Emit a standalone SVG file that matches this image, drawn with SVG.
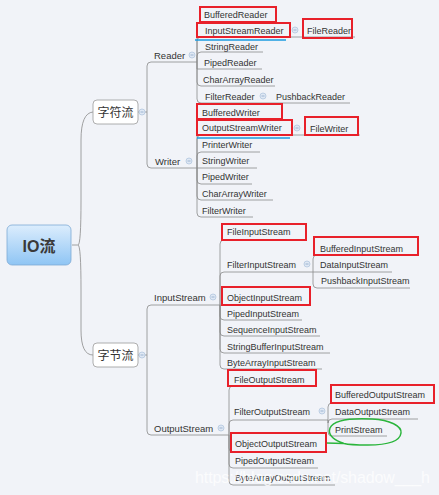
<svg xmlns="http://www.w3.org/2000/svg" width="439" height="495" viewBox="0 0 439 495">
<defs>
<linearGradient id="rootg" x1="0" y1="0" x2="0" y2="1">
<stop offset="0" stop-color="#dcedfd"/>
<stop offset="1" stop-color="#8fc5f4"/>
</linearGradient>
<style>
.t{font-family:"Liberation Sans",Arial,sans-serif;font-size:9px;fill:#333}
.b{font-family:"Liberation Sans",Arial,sans-serif;font-size:9.5px;fill:#333}
.c{font-family:"Noto Sans CJK SC","Noto Sans",sans-serif;font-size:12px;fill:#333}
.ln{fill:none;stroke:#8a8a8a;stroke-width:0.8}
.red{fill:none;stroke:#e8202a;stroke-width:2}
.blue{fill:none;stroke:#1a9be0;stroke-width:1.5}
.mc{fill:#dfe8f4;stroke:#b3c6de;stroke-width:0.8}
.mm{stroke:#8aa6c8;stroke-width:0.8}
</style>
</defs>
<rect width="439" height="495" fill="#f1f3f8"/>

<g id="connectors">
<!-- root to level 1 -->
<path class="ln" d="M72 245 L78 245 Q81 245 81 200 L81 140 Q81 113 93 112"/>
<path class="ln" d="M78 245 Q81 245 81 290 L81 330 Q81 355 93 355"/>
<!-- 字符流 -->
<path class="ln" d="M138 112 L147 112"/>
<path class="ln" d="M147 112 L147 66 Q147 62 151 62 L197 62"/>
<path class="ln" d="M147 112 L147 164 Q147 168 151 168 L197 168"/>
<!-- Reader children -->
<path class="ln" d="M197 62 L197 26 Q197 22 201 22 L276 22"/>
<path class="ln" d="M197 62 L197 41 Q197 37 201 37 L355 37"/>
<path class="ln" d="M197 62 L197 56 Q197 52 201 52 L263 52"/>
<path class="ln" d="M197 62 L197 69 L262 69"/>
<path class="ln" d="M197 62 L197 82 Q197 86 201 86 L275 86"/>
<path class="ln" d="M197 62 L197 99 Q197 103 201 103 L350 103"/>
<!-- Writer children -->
<path class="ln" d="M197 168 L197 123 Q197 119 201 119 L282 119"/>
<path class="ln" d="M197 168 L197 139 Q197 135 201 135 L360 135"/>
<path class="ln" d="M197 168 L197 156 Q197 152 201 152 L260 152"/>
<path class="ln" d="M197 168 L257 168"/>
<path class="ln" d="M197 168 L197 180 Q197 184 201 184 L252 184"/>
<path class="ln" d="M197 168 L197 196 Q197 200 201 200 L273 200"/>
<path class="ln" d="M197 168 L197 213 Q197 217 201 217 L253 217"/>
<!-- 字节流 -->
<path class="ln" d="M138 355 L147 355"/>
<path class="ln" d="M147 355 L147 309 Q147 305 151 305 L220 305"/>
<path class="ln" d="M147 355 L147 431 Q147 435 151 435 L229 435"/>
<!-- InputStream children -->
<path class="ln" d="M220 305 L220 244 Q220 240 224 240 L306 240"/>
<path class="ln" d="M220 305 L220 276 Q220 272 224 272 L313 272"/>
<path class="ln" d="M220 305 L310 305"/>
<path class="ln" d="M220 305 L220 316 Q220 320 224 320 L302 320"/>
<path class="ln" d="M220 305 L220 332 Q220 336 224 336 L320 336"/>
<path class="ln" d="M220 305 L220 349 Q220 353 224 353 L330 353"/>
<path class="ln" d="M220 305 L220 365 Q220 369 224 369 L322 369"/>
<!-- FilterInputStream children -->
<path class="ln" d="M313 272 L313 259 Q313 255 317 255 L418 255"/>
<path class="ln" d="M313 272 L392 272"/>
<path class="ln" d="M313 272 L313 284 Q313 288 317 288 L410 288"/>
<!-- OutputStream children -->
<path class="ln" d="M229 435 L229 390 Q229 386 233 386 L316 386"/>
<path class="ln" d="M229 435 L229 424 Q229 420 233 420 L328 420"/>
<path class="ln" d="M229 435 L229 448 Q229 452 233 452 L326 452"/>
<path class="ln" d="M229 435 L229 464 Q229 468 233 468 L318 468"/>
<path class="ln" d="M229 435 L229 481 Q229 485 233 485 L335 485"/>
<!-- FilterOutputStream children -->
<path class="ln" d="M328 420 L328 407 Q328 403 332 403 L434 403"/>
<path class="ln" d="M328 420 L328 423 Q328 419 332 419 L418 419"/>
<path class="ln" d="M328 420 L328 432 Q328 436 332 436 L387 436"/>
</g>

<g id="root">
<rect x="7" y="225" width="64" height="40" rx="5" fill="url(#rootg)" stroke="#7fa9d4" stroke-width="0.8"/>
<text x="39" y="252" text-anchor="middle" font-family="'Liberation Sans','Noto Sans CJK SC',sans-serif" font-size="16" font-weight="bold" fill="#3a3a3a">IO流</text>
</g>

<g id="char-stream">
<rect x="93" y="100" width="45" height="24" rx="4" fill="#fff" stroke="#9a9a9a" stroke-width="0.8"/>
<text class="c" x="115.5" y="116.5" text-anchor="middle">字符流</text>
<circle class="mc" cx="142" cy="112" r="3"/><line class="mm" x1="140.5" y1="112" x2="143.5" y2="112"/>
</g>
<g id="byte-stream">
<rect x="93" y="343" width="45" height="24" rx="4" fill="#fff" stroke="#9a9a9a" stroke-width="0.8"/>
<text class="c" x="115.5" y="359.5" text-anchor="middle">字节流</text>
<circle class="mc" cx="142" cy="355" r="3"/><line class="mm" x1="140.5" y1="355" x2="143.5" y2="355"/>
</g>

<g id="reader">
<text class="b" x="154" y="58.5">Reader</text>
<circle class="mc" cx="192" cy="55" r="3"/><line class="mm" x1="190.5" y1="55" x2="193.5" y2="55"/>
</g>
<g id="writer">
<text class="b" x="155" y="164.5">Writer</text>
<circle class="mc" cx="189" cy="161" r="3"/><line class="mm" x1="187.5" y1="161" x2="190.5" y2="161"/>
</g>
<g id="inputstream">
<text class="b" x="154" y="300.5">InputStream</text>
<circle class="mc" cx="213" cy="297" r="3"/><line class="mm" x1="211.5" y1="297" x2="214.5" y2="297"/>
</g>
<g id="outputstream">
<text class="b" x="154" y="431.5">OutputStream</text>
<circle class="mc" cx="221" cy="428" r="3"/><line class="mm" x1="219.5" y1="428" x2="222.5" y2="428"/>
</g>

<g id="bufferedreader"><rect class="red" x="200" y="7" width="76" height="15"/><text class="t" x="204" y="17.5">BufferedReader</text></g>
<g id="inputstreamreader"><rect class="red" x="197" y="23" width="93" height="14"/><text class="t" x="205" y="33.5">InputStreamReader</text>
<line class="blue" x1="195" y1="40" x2="286" y2="40"/>
<circle class="mc" cx="295" cy="30" r="3"/><line class="mm" x1="293.5" y1="30" x2="296.5" y2="30"/></g>
<g id="filereader"><rect class="red" x="303" y="19" width="49" height="19"/><text class="t" x="307" y="34">FileReader</text></g>
<g id="stringreader"><text class="t" x="205" y="49.5">StringReader</text></g>
<g id="pipedreader"><text class="t" x="204" y="65.5">PipedReader</text></g>
<g id="chararrayreader"><text class="t" x="203" y="82.5">CharArrayReader</text></g>
<g id="filterreader"><text class="t" x="205" y="99.5">FilterReader</text>
<circle class="mc" cx="263" cy="96" r="3"/><line class="mm" x1="261.5" y1="96" x2="264.5" y2="96"/></g>
<g id="pushbackreader"><text class="t" x="276" y="99.5">PushbackReader</text></g>

<g id="bufferedwriter"><rect class="red" x="197" y="104" width="85" height="15"/><text class="t" x="202" y="115.5">BufferedWriter</text></g>
<g id="outputstreamwriter"><rect class="red" x="197" y="120" width="95" height="15"/><text class="t" x="202" y="130.5">OutputStreamWriter</text>
<line class="blue" x1="197" y1="138" x2="290" y2="138"/>
<circle class="mc" cx="297" cy="128" r="3"/><line class="mm" x1="295.5" y1="128" x2="298.5" y2="128"/></g>
<g id="filewriter"><rect class="red" x="305" y="117" width="53" height="18"/><text class="t" x="310" y="131.5">FileWriter</text></g>
<g id="printerwriter"><text class="t" x="202" y="147.5">PrinterWriter</text></g>
<g id="stringwriter"><text class="t" x="202" y="163.5">StringWriter</text></g>
<g id="pipedwriter"><text class="t" x="202" y="179.5">PipedWriter</text></g>
<g id="chararraywriter"><text class="t" x="202" y="196.5">CharArrayWriter</text></g>
<g id="filterwriter"><text class="t" x="202" y="213.5">FilterWriter</text></g>

<g id="fileinputstream"><rect class="red" x="222" y="224" width="84" height="16"/><text class="t" x="227" y="234.5">FileInputStream</text></g>
<g id="filterinputstream"><text class="t" x="227" y="267.5">FilterInputStream</text>
<circle class="mc" cx="307" cy="264" r="3"/><line class="mm" x1="305.5" y1="264" x2="308.5" y2="264"/></g>
<g id="bufferedinputstream"><rect class="red" x="314" y="237" width="104" height="18"/><text class="t" x="320" y="251.5">BufferedInputStream</text></g>
<g id="datainputstream"><text class="t" x="320" y="267.5">DataInputStream</text></g>
<g id="pushbackinputstream"><text class="t" x="321" y="284" font-size="8.5">PushbackInputStream</text></g>
<g id="objectinputstream"><rect class="red" x="222" y="287" width="88" height="18"/><text class="t" x="227" y="300.5">ObjectInputStream</text></g>
<g id="pipedinputstream"><text class="t" x="227" y="316.5">PipedInputStream</text></g>
<g id="sequenceinputstream"><text class="t" x="227" y="332.5">SequenceInputStream</text></g>
<g id="stringbufferinputstream"><text class="t" x="227" y="349.5">StringBufferInputStream</text></g>
<g id="bytearrayinputstream"><text class="t" x="227" y="365.5">ByteArrayInputStream</text></g>

<g id="fileoutputstream"><rect class="red" x="228" y="370" width="88" height="16"/><text class="t" x="234" y="382.5">FileOutputStream</text></g>
<g id="filteroutputstream"><text class="t" x="234" y="414.5">FilterOutputStream</text>
<circle class="mc" cx="322" cy="411" r="3"/><line class="mm" x1="320.5" y1="411" x2="323.5" y2="411"/></g>
<g id="bufferedoutputstream"><rect class="red" x="331" y="385" width="103" height="18"/><text class="t" x="335" y="397.5">BufferedOutputStream</text></g>
<g id="dataoutputstream"><text class="t" x="335" y="414.5">DataOutputStream</text></g>
<g id="printstream"><text class="t" x="335" y="432.5">PrintStream</text>
<path d="M326 443 L344 443.5 C336 441 327 436 330 428 C334 419 352 418 372 419 C390 420 402 426 401 433 C400 441 388 445 368 445 C354 445 346 444 344 443.5" fill="none" stroke="#2bb53c" stroke-width="1.5"/></g>
<g id="objectoutputstream"><rect class="red" x="231" y="433" width="95" height="19"/><text class="t" x="235" y="446.5">ObjectOutputStream</text></g>
<g id="pipedoutputstream"><text class="t" x="235" y="463.5">PipedOutputStream</text></g>
<g id="bytearrayoutputstream"><text class="t" x="235" y="480.5">ByteArrayOutputStream</text></g>

<text x="195" y="483" font-family="'Liberation Sans',Arial,sans-serif" font-size="16" fill="#ffffff" fill-opacity="0.75" textLength="235">https://blog.csdn.net/shadow___h</text>
</svg>
